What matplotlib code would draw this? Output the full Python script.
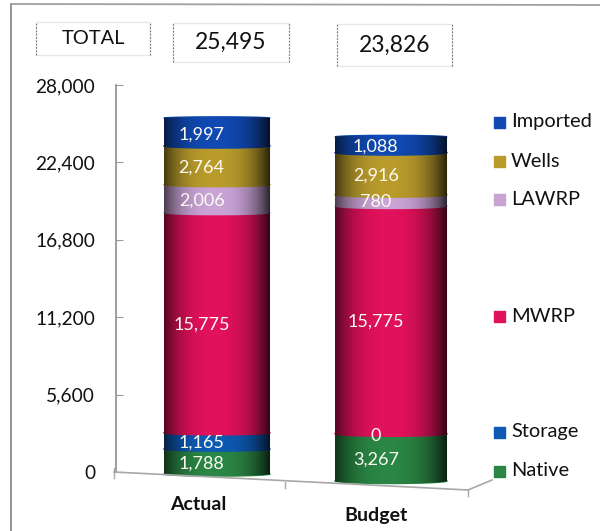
import matplotlib
matplotlib.use('Agg')
import matplotlib.pyplot as plt
import numpy as np
from matplotlib.lines import Line2D
from matplotlib.patches import Ellipse, Polygon, Rectangle
from matplotlib.transforms import Affine2D

plt.rcParams['font.family'] = ['Lato', 'DejaVu Sans']

W, H = 600, 531

# datos
categorias = ['Actual', 'Budget']
totales = ['25,495', '23,826']
fuentes = ['Native', 'Storage', 'MWRP', 'LAWRP', 'Wells', 'Imported']
actual = [1788, 1165, 15775, 2006, 2764, 1997]
budget = [3267, 0, 15775, 780, 2916, 1088]
y_ticks = [0, 5600, 11200, 16800, 22400, 28000]

colores = ['#2A8644', '#0D5AB4', '#E2115B', '#C9A3D6', '#B99B2C', '#1049B2']
legend_y = [471, 432, 316, 200, 161, 122]

# perspectiva falsa de cada cilindro: ancho, escala y corrimiento vertical
anchos = [0.61, 0.644]
escala = [1.01, 1.045]
corrimiento = [-145, -650]
tapa = [300, 350]


def px(x, y):
    return x / W, 1 - y / H


fig = plt.figure(figsize=(W / 100, H / 100), dpi=100)
ax = fig.add_axes([116 / W, 1 - 472 / H, 354 / W, 387 / H])
ax.set_xlim(-0.58, 1.454)
ax.set_ylim(0, 28000)
ax.patch.set_alpha(0)

for s in ['top', 'right', 'bottom']:
    ax.spines[s].set_visible(False)
ax.spines['left'].set_color('#8c8c8c')
ax.spines['left'].set_linewidth(1.2)
ax.set_xticks([])
ax.set_yticks(y_ticks)
ax.set_yticklabels([f'{v:,}' for v in y_ticks], fontsize=13.8, color='#111111')
ax.tick_params(axis='y', direction='in', length=5, color='#9a9a9a', pad=15)

# degradado horizontal para que parezca cilindro
t = np.linspace(-1, 1, 200)
sombra = np.zeros((1, 200, 4))
sombra[0, :, 3] = 0.72 * np.abs(t + 0.05) ** 2.6

for i, valores in enumerate([actual, budget]):
    tr = Affine2D().scale(1, escala[i]).translate(0, corrimiento[i]) + ax.transData
    ancho = anchos[i]
    bases = np.concatenate([[0], np.cumsum(valores)[:-1]])

    # de abajo hacia arriba, cada tramo tapa con su curva al de abajo
    for j in range(len(valores)):
        ax.bar(i, valores[j], ancho, bottom=bases[j], color=colores[j], transform=tr,
               zorder=2 + j, clip_on=False)
        if valores[j] > 0:
            ax.add_patch(Ellipse((i, bases[j]), ancho, tapa[i], color=colores[j],
                                 transform=tr, zorder=2 + j, clip_on=False))
    tope = sum(valores)
    ax.add_patch(Ellipse((i, tope), ancho, tapa[i] * 0.6, color=colores[-1], transform=tr,
                         zorder=9, clip_on=False))

    # la sombra se recorta con la silueta del cilindro
    th = np.linspace(0, np.pi, 40)
    borde_x = i + ancho / 2 * np.cos(th)
    arriba = tope + tapa[i] * 0.3 * np.sin(th)
    abajo = -tapa[i] / 2 * np.sin(th)
    silueta = Polygon(np.vstack([np.c_[borde_x, arriba], np.c_[borde_x[::-1], abajo[::-1]]]),
                      closed=True, transform=tr, fill=False, linewidth=0, clip_on=False)
    ax.add_patch(silueta)
    im = ax.imshow(sombra, extent=(i - ancho / 2, i + ancho / 2, -tapa[i], tope + tapa[i]),
                   aspect='auto', transform=tr, zorder=10)
    im.set_clip_on(True)
    im.set_clip_path(silueta)
    im.set_clip_box(fig.bbox)

    for j in range(len(valores)):
        xt, yt = tr.transform((i, bases[j] + valores[j] / 2))
        ax.annotate(f'{valores[j]:,}', (xt, yt), xycoords='figure pixels', xytext=(-11, -1.5),
                    textcoords='offset points', ha='center', va='center', color='#fbfbf2',
                    fontsize=13, zorder=11)

ax.set_xlim(-0.58, 1.454)
ax.set_ylim(0, 28000)

# piso del grafico en perspectiva y marco exterior
lineas = [
    ([114, 468, 492], [472, 490, 480], '#a8a8a8', 1.2),
    ([114, 114], [468, 478], '#a8a8a8', 1.0),
    ([285, 285], [482, 488], '#a8a8a8', 1.0),
    ([468, 468], [490, 496], '#a8a8a8', 1.0),
    ([11, 11], [4, 531], '#8a8a8a', 1.3),
    ([11, 600], [4, 5], '#a0a0a0', 1.3),
]
for xs, ys, c, lw in lineas:
    fx, fy = zip(*[px(a, b) for a, b in zip(xs, ys)])
    fig.add_artist(Line2D(fx, fy, color=c, lw=lw))

# cajas de arriba
cajas = [(36, 22, 114, 33), (173, 23, 116, 39), (337, 24, 115, 42)]
textos = ['TOTAL'] + totales
tamanos = [14.4, 16.4, 16.4]
for (x0, y0, w, h), txt, fs in zip(cajas, textos, tamanos):
    fx, fy = px(x0, y0 + h)
    fig.add_artist(Rectangle((fx, fy), w / W, h / H, transform=fig.transFigure, fill=False,
                             edgecolor='#e8e8e8', lw=1))
    for xx in (x0, x0 + w):
        fig.add_artist(Line2D([xx / W, xx / W], [fy, fy + h / H], color='#777777', lw=0.8,
                              ls=(0, (1.5, 1.5))))
    tx, ty = px(x0 + w / 2, y0 + h / 2)
    fig.text(tx, ty, txt, ha='center', va='center', fontsize=fs, color='#111111')

# leyenda a mano, como en la original
for nombre, color, yl in zip(fuentes, colores, legend_y):
    fx, fy = px(494, yl + 5.5)
    fig.add_artist(Rectangle((fx, fy), 11 / W, 11 / H, transform=fig.transFigure, color=color))
    tx, ty = px(511, yl)
    fig.text(tx, ty, nombre, ha='left', va='center', fontsize=14.4, color='#111111')

# nombres de las categorias
cat_pos = [(198, 505), (376, 515)]
for nombre, (xc, yc) in zip(categorias, cat_pos):
    tx, ty = px(xc, yc)
    fig.text(tx, ty, nombre, ha='center', va='center', fontsize=14, fontweight='bold',
             color='#111111')

fig.savefig('out.png', dpi=100)
